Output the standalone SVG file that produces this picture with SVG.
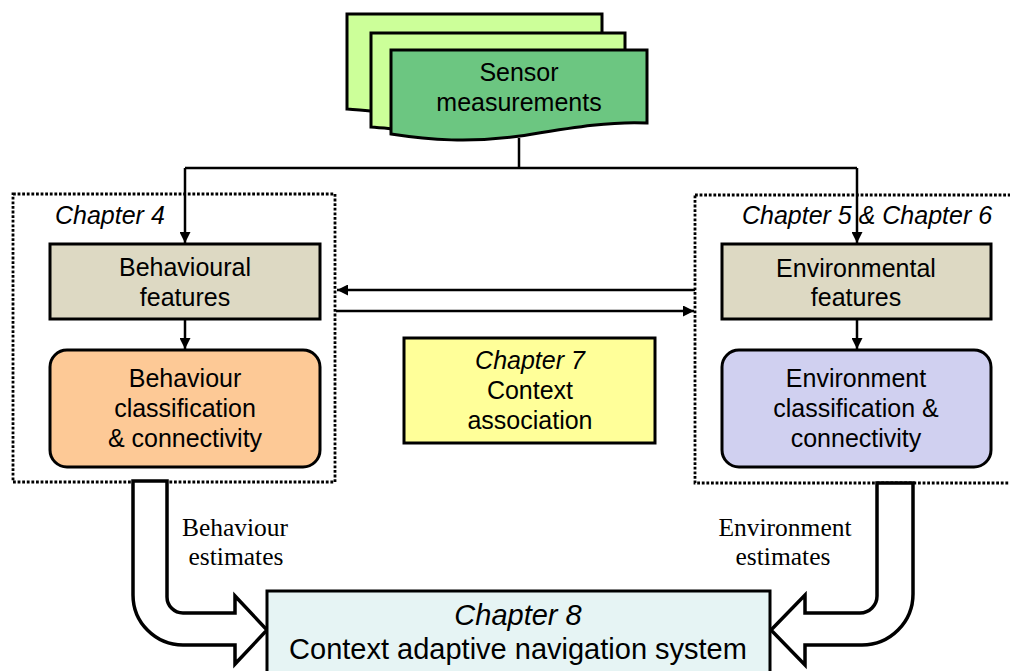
<svg xmlns="http://www.w3.org/2000/svg" width="1010" height="671" viewBox="0 0 1010 671">
  <style>
    .box { stroke: #000; stroke-width: 3; }
    .t { font-family: "Liberation Sans", Arial, sans-serif; font-size: 25px; fill: #000; text-anchor: middle; }
    .it { font-style: italic; }
    .serif { font-family: "Liberation Serif", "Times New Roman", serif; font-size: 25.5px; fill: #000; text-anchor: middle; }
    .dotted { fill: none; stroke: #000; stroke-width: 2.8; stroke-dasharray: 2.8 1.8; }
    .link { fill: none; stroke: #000; stroke-width: 2.5; }
    .fat { fill: #fff; stroke: #000; stroke-width: 3.5; stroke-linejoin: miter; }
  </style>
  <defs>
    <marker id="head" viewBox="0 0 10 10" refX="10" refY="5" markerWidth="12" markerHeight="11" markerUnits="userSpaceOnUse" orient="auto">
      <path d="M0,0 L10,5 L0,10 Z" fill="#000"/>
    </marker>
  </defs>

  <rect width="1010" height="671" fill="#fff"/>

  <!-- chapter frames -->
  <g id="frame-ch4">
    <rect class="dotted" x="13" y="194" width="322" height="288"/>
    <text class="t it" x="55" y="224" style="text-anchor:start">Chapter 4</text>
  </g>
  <g id="frame-ch56">
    <rect class="dotted" x="695" y="195" width="330" height="288"/>
    <text class="t it" x="867" y="224">Chapter 5 &amp; Chapter 6</text>
  </g>

  <!-- sensor measurement stack -->
  <g id="sensor">
    <path class="box" fill="#CCFF99" d="M347,14 H602 V96 C570,92 530,102 480,112 C430,120 390,112 347,109 Z"/>
    <path class="box" fill="#CCFF99" d="M371,33 H625 V112 C590,108 550,118 500,128 C450,136 410,130 371,127 Z"/>
    <path class="box" fill="#6CC681" d="M391,50 H647 V123 C610,121 570,128 520,136 C470,143 430,140 391,134 Z"/>
    <text class="t" x="519" y="81">Sensor</text>
    <text class="t" x="519" y="111">measurements</text>
  </g>

  <!-- connectors -->
  <g id="connectors">
    <path class="link" d="M519,138 V168 M185,168 H857"/>
    <path class="link" d="M185,168 V243" marker-end="url(#head)"/>
    <path class="link" d="M857,168 V243" marker-end="url(#head)"/>
    <path class="link" d="M185,320 V349" marker-end="url(#head)"/>
    <path class="link" d="M857,320 V349" marker-end="url(#head)"/>
    <path class="link" d="M695,290 H337" marker-end="url(#head)"/>
    <path class="link" d="M336,311 H694" marker-end="url(#head)"/>
    <path class="fat" d="M133,481 H167 V597 A16,16 0 0 0 183,613 H235 V596 L267,630 L235,664 V645 H183 A50,50 0 0 1 133,595 Z"/>
    <path class="fat" d="M877,483 H913 V594 A51,51 0 0 1 862,645 H805 V665 L771,630 L805,595 V613 H860 A17,17 0 0 0 877,596 Z"/>
    <text class="serif" x="235" y="536">Behaviour</text>
    <text class="serif" x="236" y="565">estimates</text>
    <text class="serif" x="785" y="536">Environment</text>
    <text class="serif" x="783" y="565">estimates</text>
  </g>

  <g id="behavioural-features">
    <rect class="box" fill="#DDD9C3" x="50" y="244" width="270" height="75"/>
    <text class="t" x="185" y="276">Behavioural</text>
    <text class="t" x="185" y="306">features</text>
  </g>
  <g id="behaviour-classification">
    <rect class="box" fill="#FDC996" x="50" y="350" width="270" height="117" rx="17"/>
    <text class="t" x="185" y="387">Behaviour</text>
    <text class="t" x="185" y="417">classification</text>
    <text class="t" x="185" y="447">&amp; connectivity</text>
  </g>

  <g id="environmental-features">
    <rect class="box" fill="#DDD9C3" x="722" y="244" width="269" height="75"/>
    <text class="t" x="856" y="277">Environmental</text>
    <text class="t" x="856" y="306">features</text>
  </g>
  <g id="environment-classification">
    <rect class="box" fill="#D0D0F0" x="722" y="350" width="269" height="117" rx="17"/>
    <text class="t" x="856" y="387">Environment</text>
    <text class="t" x="856" y="417">classification &amp;</text>
    <text class="t" x="856" y="447">connectivity</text>
  </g>

  <g id="context-association">
    <rect class="box" fill="#FFFF99" x="404" y="338" width="251" height="105"/>
    <text class="t it" x="530" y="369">Chapter 7</text>
    <text class="t" x="530" y="399">Context</text>
    <text class="t" x="530" y="429">association</text>
  </g>

  <g id="navigation-system">
    <rect class="box" fill="#E6F4F4" x="267" y="591" width="503" height="100"/>
    <text class="t it" x="518" y="625" style="font-size:29px">Chapter 8</text>
    <text class="t" x="518" y="659" style="font-size:29px">Context adaptive navigation system</text>
  </g>
</svg>
